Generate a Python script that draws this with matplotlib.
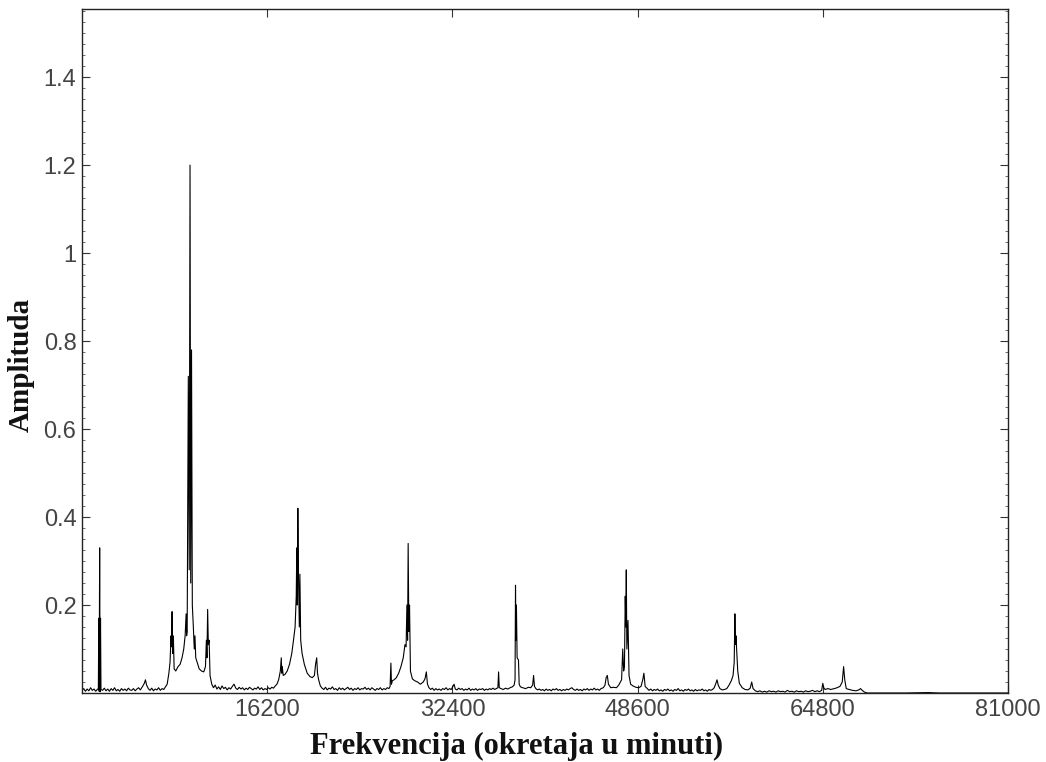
import matplotlib
matplotlib.use('Agg')
import matplotlib.pyplot as plt
from matplotlib.ticker import MultipleLocator

# ---- data (frequency in rpm, amplitude) ----
freq = [
    0, 150, 300, 450, 600, 750, 900, 1050, 1200, 1330,
    1430, 1470, 1500, 1545, 1580, 1620, 1660,
    1800, 1950, 2100, 2250, 2400, 2550, 2700, 2850, 3000, 3150, 3300, 3450, 3600,
    3750, 3900, 4050, 4200, 4350, 4500, 4650, 4800, 4950, 5100, 5300, 5450, 5550,
    5650, 5800, 5950, 6100, 6250, 6400, 6550, 6700, 6850, 7000, 7150, 7300, 7450,
    7600, 7700, 7790, 7830, 7880, 7930, 7990, 8060, 8200, 8400, 8580, 8750, 8900,
    9020, 9110, 9150, 9200, 9300, 9380, 9450, 9510, 9580, 9650, 9740, 9820, 9880,
    9950, 10070, 10250, 10450, 10650, 10800, 10880, 10930, 10990, 11050, 11120,
    11200, 11350,
    11500, 11650, 11800, 11950, 12100, 12250, 12400, 12550, 12700, 12850, 13000,
    13150, 13300, 13450, 13600, 13750, 13900, 14050, 14200, 14350, 14500, 14650,
    14800, 14950, 15100, 15250, 15400, 15550, 15700, 15850, 16000, 16150, 16300,
    16450, 16600, 16750, 16900, 17050, 17200,
    17350, 17430, 17480, 17520, 17600, 17750, 17950, 18150, 18350, 18500, 18640,
    18740, 18790, 18830, 18880, 18940, 19010, 19060, 19130, 19250, 19450, 19700,
    19950, 20150, 20330, 20430, 20530, 20600, 20700, 20850,
    21000, 21150, 21300, 21450, 21600, 21750, 21900, 22050, 22200, 22350, 22500,
    22650, 22800, 22950, 23100, 23250, 23400, 23550, 23700, 23850, 24000, 24150,
    24300, 24450, 24600, 24750, 24900, 25050, 25200, 25350, 25500, 25650, 25800,
    25950, 26100, 26250, 26400, 26550, 26700, 26850,
    26950, 27020, 27070, 27150, 27300, 27500, 27700, 27900, 28100, 28250, 28350,
    28420, 28480, 28530, 28590, 28650, 28730, 28900, 29100, 29350, 29600, 29850,
    30000, 30120, 30220, 30350,
    30500, 30650, 30800, 30950, 31100, 31250, 31400, 31550, 31700, 31850, 32000,
    32150, 32300, 32450, 32550, 32650, 32800, 32950, 33100, 33250, 33400, 33550,
    33700, 33850, 34000, 34150, 34300, 34450, 34600, 34750, 34900, 35050, 35200,
    35350, 35500, 35650, 35800, 35950, 36100, 36250,
    36380, 36440, 36500, 36650, 36850, 37050, 37250, 37450, 37650, 37800, 37880,
    37920, 37960, 38000, 38060, 38180, 38240, 38350, 38550, 38800, 39050, 39250,
    39420, 39500, 39580, 39700,
    39850, 40000, 40150, 40300, 40450, 40600, 40750, 40900, 41050, 41200, 41350,
    41500, 41650, 41800, 41950, 42100, 42250, 42400, 42550, 42700, 42850, 43000,
    43150, 43300, 43450, 43600, 43750, 43900, 44050, 44200, 44350, 44500, 44650,
    44800, 44950, 45100, 45250, 45400,
    45600, 45750, 45850, 45950, 46050, 46250, 46500, 46750, 46950, 47100, 47200,
    47300, 47380, 47450, 47520, 47570, 47610, 47660, 47760, 47850, 47990, 48200,
    48450, 48700, 48900, 49050, 49150, 49260, 49450,
    49600, 49750, 49900, 50050, 50200, 50350, 50500, 50650, 50800, 50950, 51100,
    51250, 51400, 51550, 51700, 51850, 52000, 52150, 52300, 52450, 52600, 52750,
    52900, 53050, 53200, 53350, 53500, 53650, 53800, 53950, 54100, 54250, 54400,
    54550, 54700, 54850, 55000, 55150,
    55300, 55450, 55550, 55650, 55800, 56000, 56200, 56400, 56600, 56800, 56950,
    57050, 57110, 57160, 57210, 57280, 57360, 57500, 57750, 58000, 58250, 58450,
    58580, 58700, 58900,
    59100, 59300, 59500, 59700, 59900, 60100, 60300, 60500, 60700, 60900, 61100,
    61300, 61500, 61700, 61900, 62100, 62300, 62500, 62700, 62900, 63100, 63300,
    63500, 63700, 63900, 64100, 64300, 64500, 64700,
    64800, 64880, 65000, 65250, 65500, 65800, 66050, 66300, 66500, 66620, 66720,
    66850, 67100, 67400, 67700, 67950, 68100, 68250, 68450, 68700,
    70000, 72000, 74000, 75000, 81000,
]

amp = [
    0.006, 0.010, 0.004, 0.009, 0.005, 0.012, 0.006, 0.009, 0.004, 0.008,
    0.010, 0.170, 0.004, 0.330, 0.003, 0.170, 0.008,
    0.006, 0.011, 0.005, 0.009, 0.004, 0.010, 0.006, 0.012, 0.005, 0.008, 0.004, 0.010, 0.006,
    0.009, 0.005, 0.011, 0.007, 0.006, 0.010, 0.005, 0.009, 0.012, 0.007, 0.015, 0.022, 0.030,
    0.018, 0.010, 0.006, 0.011, 0.005, 0.009, 0.007, 0.012, 0.006, 0.010, 0.008, 0.014, 0.020,
    0.045, 0.070, 0.130, 0.105, 0.185, 0.090, 0.130, 0.055, 0.050, 0.060, 0.065, 0.080, 0.100,
    0.130, 0.180, 0.130, 0.140, 0.720, 0.280, 1.200, 0.250, 0.780, 0.200, 0.150, 0.100, 0.130,
    0.080, 0.070, 0.055, 0.050, 0.048, 0.060, 0.120, 0.080, 0.190, 0.110, 0.120,
    0.040, 0.020,
    0.012, 0.018, 0.009, 0.014, 0.008, 0.016, 0.010, 0.013, 0.007, 0.012, 0.009,
    0.015, 0.020, 0.011, 0.008, 0.013, 0.009, 0.012, 0.007, 0.011, 0.008, 0.013,
    0.010, 0.007, 0.011, 0.009, 0.014, 0.008, 0.012, 0.007, 0.010, 0.008, 0.012,
    0.009, 0.013, 0.011, 0.016, 0.020, 0.030,
    0.050, 0.080, 0.045, 0.060, 0.040, 0.042, 0.050, 0.065, 0.090, 0.120, 0.150,
    0.220, 0.330, 0.200, 0.420, 0.260, 0.150, 0.270, 0.120, 0.090, 0.065, 0.045,
    0.037, 0.035, 0.040, 0.065, 0.080, 0.045, 0.030, 0.016,
    0.011, 0.008, 0.013, 0.007, 0.011, 0.009, 0.014, 0.008, 0.010, 0.006, 0.012,
    0.008, 0.011, 0.007, 0.010, 0.013, 0.008, 0.011, 0.006, 0.010, 0.008, 0.012,
    0.007, 0.010, 0.009, 0.013, 0.008, 0.011, 0.007, 0.012, 0.009, 0.006, 0.010,
    0.008, 0.012, 0.007, 0.010, 0.008, 0.012, 0.010,
    0.015, 0.068, 0.020, 0.028, 0.030, 0.035, 0.045, 0.060, 0.080, 0.110, 0.105,
    0.200, 0.120, 0.340, 0.140, 0.200, 0.050, 0.032, 0.028, 0.025, 0.020, 0.025,
    0.032, 0.048, 0.020, 0.012,
    0.008, 0.011, 0.006, 0.010, 0.007, 0.009, 0.006, 0.010, 0.008, 0.012, 0.007,
    0.010, 0.008, 0.015, 0.020, 0.009, 0.007, 0.011, 0.008, 0.010, 0.006, 0.009,
    0.007, 0.011, 0.006, 0.009, 0.007, 0.010, 0.006, 0.009, 0.008, 0.010, 0.006,
    0.009, 0.007, 0.010, 0.008, 0.011, 0.008, 0.010,
    0.012, 0.048, 0.012, 0.010, 0.008, 0.011, 0.009, 0.012, 0.014, 0.018, 0.030,
    0.245, 0.120, 0.200, 0.080, 0.075, 0.020, 0.014, 0.012, 0.010, 0.013, 0.012,
    0.018, 0.040, 0.015, 0.010,
    0.007, 0.009, 0.006, 0.008, 0.005, 0.009, 0.006, 0.008, 0.005, 0.009, 0.007,
    0.010, 0.006, 0.008, 0.005, 0.008, 0.006, 0.009, 0.007, 0.010, 0.012, 0.008,
    0.006, 0.009, 0.006, 0.008, 0.005, 0.009, 0.007, 0.010, 0.006, 0.009, 0.007,
    0.011, 0.007, 0.009, 0.006, 0.010,
    0.012, 0.018, 0.035, 0.040, 0.020, 0.012, 0.013, 0.012, 0.018, 0.025, 0.030,
    0.100, 0.050, 0.060, 0.220, 0.150, 0.280, 0.100, 0.165, 0.040, 0.020, 0.016,
    0.013, 0.012, 0.015, 0.030, 0.045, 0.015, 0.010,
    0.006, 0.009, 0.005, 0.008, 0.006, 0.009, 0.005, 0.007, 0.004, 0.008, 0.006,
    0.009, 0.005, 0.007, 0.004, 0.008, 0.006, 0.010, 0.005, 0.007, 0.004, 0.008,
    0.006, 0.009, 0.005, 0.007, 0.004, 0.008, 0.005, 0.007, 0.006, 0.009, 0.005,
    0.007, 0.004, 0.008, 0.006, 0.008,
    0.012, 0.022, 0.030, 0.018, 0.010, 0.007, 0.008, 0.010, 0.018, 0.028, 0.040,
    0.070, 0.180, 0.110, 0.130, 0.090, 0.050, 0.022, 0.012, 0.008, 0.007, 0.011,
    0.025, 0.010, 0.005,
    0.003, 0.005, 0.002, 0.004, 0.002, 0.005, 0.003, 0.004, 0.002, 0.005, 0.003,
    0.004, 0.002, 0.006, 0.003, 0.004, 0.002, 0.005, 0.003, 0.004, 0.002, 0.005,
    0.003, 0.004, 0.006, 0.003, 0.005, 0.003, 0.006,
    0.022, 0.012, 0.008, 0.010, 0.008, 0.010, 0.012, 0.015, 0.025, 0.060, 0.030,
    0.010, 0.008, 0.006, 0.005, 0.007, 0.010, 0.006, 0.002, 0.000,
    0.000, 0.000, 0.001, 0.000, 0.000,
]

x_ticks = [16200, 32400, 48600, 64800, 81000]
x_tick_labels = ['16200', '32400', '48600', '64800', '81000']
y_ticks = [0.2, 0.4, 0.6, 0.8, 1.0, 1.2, 1.4]
y_tick_labels = ['0.2', '0.4', '0.6', '0.8', '1', '1.2', '1.4']

fig = plt.figure(figsize=(10.46, 7.62), dpi=100)
ax = fig.add_axes([82/1046, 69/762, 926/1046, 684/762])
ax.plot(freq, amp, color='black', lw=0.8)
ax.set_xlim(0, 81000)
ax.set_ylim(0, 1.555)

ax.set_xticks(x_ticks)
ax.set_xticklabels(x_tick_labels)
ax.set_yticks(y_ticks)
ax.set_yticklabels(y_tick_labels)
ax.yaxis.set_minor_locator(MultipleLocator(0.025))

for lab in ax.get_xticklabels() + ax.get_yticklabels():
    lab.set_fontfamily('Liberation Sans')
ax.tick_params(axis='both', which='major', direction='in', top=True, right=True,
               length=6, width=0.8, labelsize=17, labelcolor='#444444', color='#333333')
ax.tick_params(axis='x', which='major', pad=4)
ax.tick_params(axis='y', which='major', pad=4)
ax.tick_params(axis='y', which='minor', direction='in', left=True, right=True,
               length=2.5, width=0.6, color='#555555')
for s in ax.spines.values():
    s.set_linewidth(1.0)
    s.set_color('#222222')

ax.set_xlabel('Frekvencija (okretaja u minuti)', fontfamily='Liberation Serif',
              fontweight='bold', fontsize=22, color='#111111')
ax.set_ylabel('Amplituda', fontfamily='Liberation Serif',
              fontweight='bold', fontsize=21, color='#111111')
ax.xaxis.set_label_coords(0.469, -0.057)
ax.yaxis.set_label_coords(-0.051, 0.48)

fig.savefig('out.png', dpi=100)
